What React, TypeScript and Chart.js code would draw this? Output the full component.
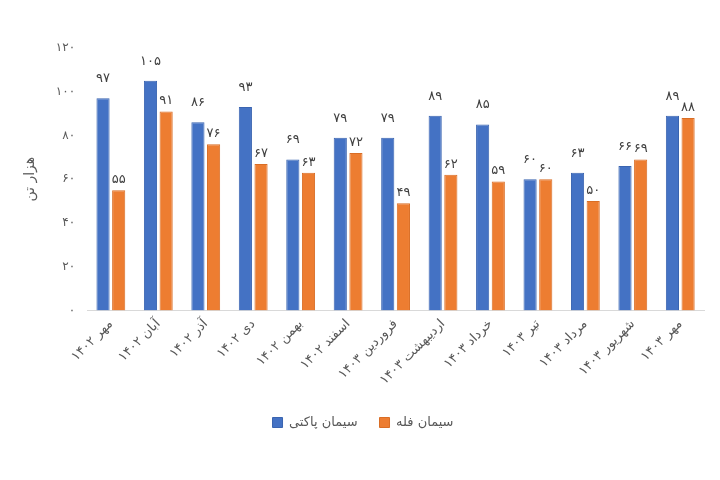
import React, { useEffect, useRef } from "react";
import { Chart, registerables } from "chart.js";

Chart.register(...registerables);

const categories = [
  "مهر ۱۴۰۲", "آبان ۱۴۰۲", "آذر ۱۴۰۲", "دی ۱۴۰۲", "بهمن ۱۴۰۲", "اسفند ۱۴۰۲",
  "فروردین ۱۴۰۳", "اردیبهشت ۱۴۰۳", "خرداد ۱۴۰۳", "تیر ۱۴۰۳", "مرداد ۱۴۰۳", "شهریور ۱۴۰۳", "مهر ۱۴۰۳",
];
const packaged = [97, 105, 86, 93, 69, 79, 79, 89, 85, 60, 63, 66, 89];
const bulk = [55, 91, 76, 67, 63, 72, 49, 62, 59, 60, 50, 69, 88];
const seriesNames = ["سیمان پاکتی", "سیمان فله"];
const yTitle = "هزار تن";

const FONT = "'DejaVu Sans', 'Noto Sans', sans-serif";

const toFa = (v: number | string) =>
  String(v).replace(/[0-9]/g, (d) => "۰۱۲۳۴۵۶۷۸۹"[Number(d)]);

const labelPlugin = {
  id: "valueLabels",
  afterDatasetsDraw(chart: any) {
    const ctx = chart.ctx;
    ctx.save();
    ctx.font = `13px ${FONT}`;
    ctx.fillStyle = "#404040";
    ctx.textAlign = "center";
    ctx.textBaseline = "bottom";
    chart.data.datasets.forEach((ds: any, di: number) => {
      const meta = chart.getDatasetMeta(di);
      meta.data.forEach((el: any, i: number) => {
        const off = di === 0 ? 13 : 4;
        ctx.fillText(toFa(ds.data[i]), el.x, el.y - off);
      });
    });
    ctx.restore();
  },
};

export default function App() {
  const ref = useRef<HTMLCanvasElement>(null);
  useEffect(() => {
    if (!ref.current) return;
    const chart = new Chart(ref.current, {
      type: "bar",
      data: {
        labels: categories,
        datasets: [
          { label: seriesNames[0], data: packaged, backgroundColor: "#4472C4", borderColor: "#3a64b0", borderWidth: 1 },
          { label: seriesNames[1], data: bulk, backgroundColor: "#ED7D31", borderColor: "#d96d25", borderWidth: 1 },
        ],
      },
      options: {
        responsive: false,
        animation: false,
        layout: { padding: { left: 22, right: 16, top: 48, bottom: 41 } },
        datasets: { bar: { categoryPercentage: 0.66, barPercentage: 0.84 } } as any,
        scales: {
          x: {
            grid: { display: false, drawTicks: false },
            border: { display: true, color: "#d9d9d9" },
            ticks: {
              maxRotation: 45,
              minRotation: 45,
              padding: 6,
              color: "#595959",
              font: { family: FONT, size: 13 },
            },
          },
          y: {
            min: 0,
            max: 120,
            grid: { display: false, drawTicks: false },
            border: { display: false },
            ticks: {
              stepSize: 20,
              padding: 12,
              color: "#595959",
              font: { family: FONT, size: 12 },
              callback: (v: any) => toFa(v),
            },
            title: {
              display: true,
              text: yTitle,
              color: "#595959",
              font: { family: FONT, size: 14 },
              padding: { top: 0, bottom: 5 },
            },
          },
        },
        plugins: {
          legend: {
            position: "bottom",
            labels: {
              boxWidth: 10,
              boxHeight: 10,
              padding: 22,
              color: "#595959",
              font: { family: FONT, size: 13 },
            },
          },
          tooltip: { enabled: false },
        },
      },
      plugins: [labelPlugin],
    });
    return () => chart.destroy();
  }, []);
  return (
    <div style={{ position: "absolute", left: 0, top: 0, width: 720, height: 480, background: "#fff" }}>
      <canvas ref={ref} width={720} height={480} />
    </div>
  );
}
